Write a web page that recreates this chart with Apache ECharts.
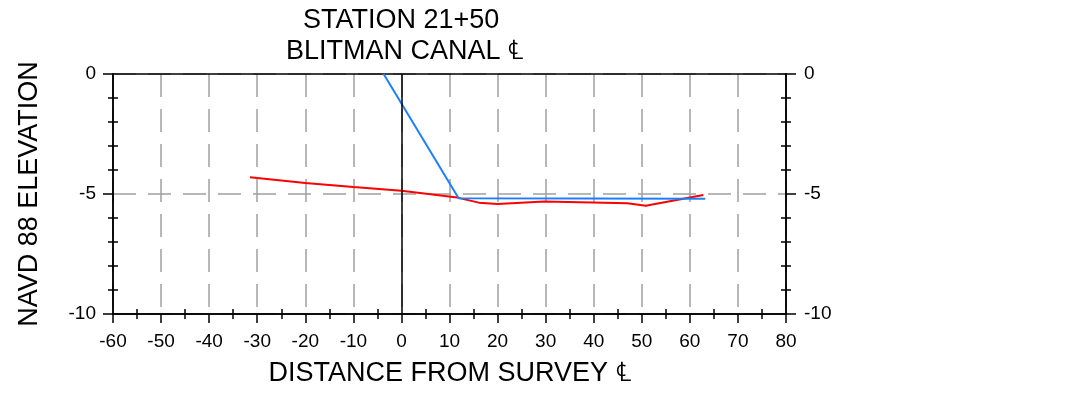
<!DOCTYPE html>
<html>
<head>
<meta charset="utf-8">
<script src="https://cdn.jsdelivr.net/npm/echarts@6/dist/echarts.min.js"></script>
<style>html,body{margin:0;padding:0;background:#fff;}#c{width:1066px;height:403px;}</style>
</head>
<body>
<div id="c"></div>
<script>
const titleLines = ['STATION 21+50', 'BLITMAN CANAL \u2104'];
const xName = 'DISTANCE FROM SURVEY \u2104';
const yName = 'NAVD 88 ELEVATION';
const xMin = -60, xMax = 80, xStep = 10;
const yMin = -10, yMax = 0, yStep = 5;
const existingGround = [[-31.5,-4.3],[-20,-4.54],[-10,-4.71],[0,-4.86],[11.6,-5.15],[16.1,-5.36],[20,-5.42],[29.7,-5.31],[47,-5.39],[50.8,-5.49],[62.8,-5.04]];
const designSection = [[-3.7,0],[11.9,-5.18],[63.2,-5.2]];

const FONT = "'Liberation Sans', Arial, sans-serif";
const BLACK = '#000';
const GRID = '#a0a0a0';
const dash = [23, 12];

function xAx(opts) {
  return Object.assign({
    type: 'value', min: xMin, max: xMax, interval: xStep, position: 'bottom', gridIndex: 0,
    axisLine: { show: true, onZero: false, lineStyle: { color: BLACK, width: 1.5 } },
    axisTick: { show: false },
    minorTick: { show: false },
    axisLabel: { show: false },
    splitLine: { show: false }
  }, opts);
}
function yAx(opts) {
  return Object.assign({
    type: 'value', min: yMin, max: yMax, interval: yStep, position: 'left', gridIndex: 0,
    axisLine: { show: true, onZero: false, lineStyle: { color: BLACK, width: 1.5 } },
    axisTick: { show: false },
    minorTick: { show: false },
    axisLabel: { show: false },
    splitLine: { show: false }
  }, opts);
}
const tickLbl = { show: true, color: BLACK, fontSize: 19, fontFamily: FONT };

const chart = echarts.init(document.getElementById('c'), null, { renderer: 'canvas' });
chart.setOption({
  animation: false,
  backgroundColor: '#fff',
  grid: { left: 113, top: 74, width: 673, height: 240, containLabel: false },
  graphic: [
    { type: 'text', left: 303, top: 7, style: { text: titleLines[0], fontSize: 27, fontFamily: FONT, fill: BLACK } },
    { type: 'text', left: 286, top: 38, style: { text: titleLines[1], fontSize: 27, fontFamily: FONT, fill: BLACK } }
  ],
  xAxis: [
    xAx({
      axisTick: { show: true, length: 9, lineStyle: { color: BLACK, width: 1.5 } },
      minorTick: { show: true, splitNumber: 2, length: 5, lineStyle: { color: BLACK, width: 1.5 } },
      axisLabel: Object.assign({ margin: 18 }, tickLbl),
      splitLine: { show: true, lineStyle: { color: GRID, width: 1.5, type: dash } },
      name: xName, nameLocation: 'middle', nameGap: 46,
      nameTextStyle: { fontSize: 27, fontFamily: FONT, color: BLACK }
    }),
    xAx({
      axisTick: { show: false, inside: true },
      minorTick: { show: true, splitNumber: 2, length: 5, lineStyle: { color: BLACK, width: 1.5 } }
    }),
    xAx({ position: 'top' })
  ],
  yAxis: [
    yAx({
      axisTick: { show: true, length: 10, lineStyle: { color: BLACK, width: 1.5 } },
      minorTick: { show: true, splitNumber: 5, length: 5, lineStyle: { color: BLACK, width: 1.5 } },
      axisLabel: Object.assign({ margin: 17 }, tickLbl),
      splitLine: { show: true, lineStyle: { color: GRID, width: 1.5, type: dash } },
      name: yName, nameLocation: 'middle', nameGap: 70, nameRotate: 90,
      nameTextStyle: { fontSize: 27, fontFamily: FONT, color: BLACK }
    }),
    yAx({
      axisTick: { show: false, inside: true },
      minorTick: { show: true, splitNumber: 5, length: 5, lineStyle: { color: BLACK, width: 1.5 } }
    }),
    yAx({
      position: 'right',
      axisTick: { show: true, length: 10, lineStyle: { color: BLACK, width: 1.5 } },
      minorTick: { show: true, splitNumber: 5, length: 5, lineStyle: { color: BLACK, width: 1.5 } },
      axisLabel: Object.assign({ margin: 18 }, tickLbl)
    }),
    yAx({
      position: 'right',
      axisTick: { show: false, inside: true },
      minorTick: { show: true, splitNumber: 5, length: 5, lineStyle: { color: BLACK, width: 1.5 } }
    })
  ],
  series: [
    {
      type: 'line', xAxisIndex: 0, yAxisIndex: 0, data: existingGround, showSymbol: false, symbol: 'none',
      lineStyle: { color: '#ff0000', width: 2 }, z: 3,
      markLine: {
        silent: true, symbol: 'none', label: { show: false },
        lineStyle: { color: BLACK, width: 1.5, type: 'solid' },
        data: [{ xAxis: 0 }]
      }
    },
    {
      type: 'line', xAxisIndex: 0, yAxisIndex: 0, data: designSection, showSymbol: false, symbol: 'none',
      lineStyle: { color: '#1a80ff', width: 2 }, z: 4
    }
  ]
});
</script>
</body>
</html>
